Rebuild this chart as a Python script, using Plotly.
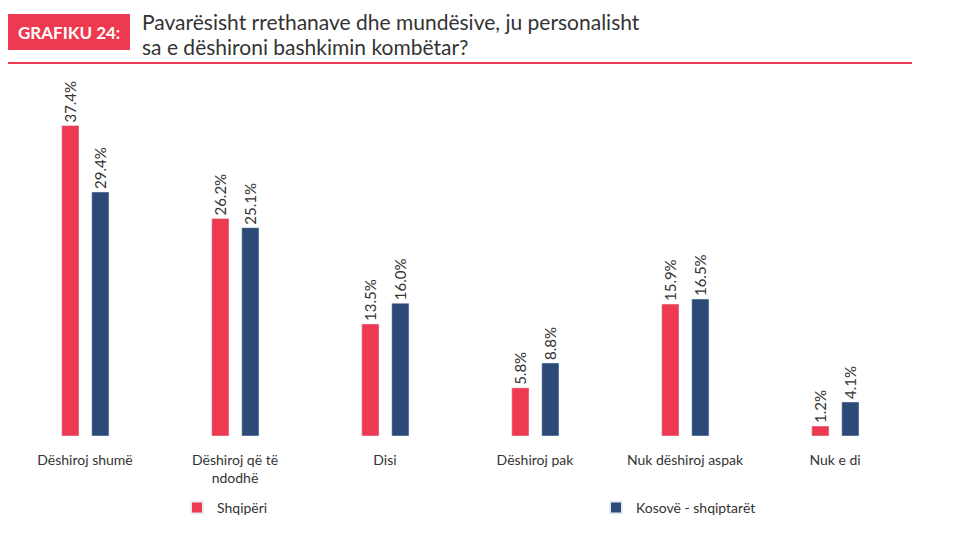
import plotly.graph_objects as go

categories = ["Dëshiroj shumë", "Dëshiroj që të<br>ndodhë", "Disi", "Dëshiroj pak", "Nuk dëshiroj aspak", "Nuk e di"]
shqiperi = [37.4, 26.2, 13.5, 5.8, 15.9, 1.2]
kosove = [29.4, 25.1, 16.0, 8.8, 16.5, 4.1]
series_names = ["Shqipëri", "Kosovë - shqiptarët"]
title_lines = ["Pavarësisht rrethanave dhe mundësive, ju personalisht", "sa e dëshironi bashkimin kombëtar?"]

RED = "#EE3A50"
BLUE = "#2B4A78"
TXT = "#333333"
FONT = "Lato, Open Sans, sans-serif"

# page body has an 8px margin -> compensate
OFF = 8
PLOT_L, PLOT_R, PLOT_T, PLOT_B = 10, 910, 80, 436


def px(xs):
    return (xs - PLOT_L) / (PLOT_R - PLOT_L)


def py(ys):
    return (PLOT_B - ys) / (PLOT_B - PLOT_T)


fig = go.Figure()
for vals, name, col, off in [(shqiperi, series_names[0], RED, -0.155), (kosove, series_names[1], BLUE, 0.045)]:
    fig.add_trace(go.Bar(
        x=categories, y=vals, name=name, marker_color=col,
        width=0.115, offset=off,
        text=[f"{v:.1f}%" for v in vals], textposition="outside", textangle=-90,
        constraintext="none", cliponaxis=False,
        textfont=dict(size=15, color=TXT, family=FONT),
    ))

fig.update_layout(
    width=980, height=539,
    margin=dict(l=PLOT_L - OFF, r=980 - (PLOT_R - OFF), t=PLOT_T - OFF, b=539 - (PLOT_B - OFF),
                autoexpand=False),
    paper_bgcolor="white", plot_bgcolor="white",
    font=dict(family=FONT, color=TXT, size=14),
    barmode="group",
    showlegend=True,
    legend=dict(
        orientation="h", xref="container", yref="container",
        x=(177 - OFF) / 980, y=1 - (492 - OFF) / 539, xanchor="left", yanchor="top",
        entrywidth=374, entrywidthmode="pixels",
        font=dict(size=14, color=TXT, family=FONT),
        itemsizing="constant",
    ),
    xaxis=dict(showline=False, showgrid=False, zeroline=False, ticks="",
               tickfont=dict(size=14, color=TXT, family=FONT), ticklabelstandoff=14),
    yaxis=dict(range=[0, (PLOT_B - PLOT_T) / 8.3], visible=False, showgrid=False, zeroline=False),
    shapes=[
        dict(type="rect", xref="paper", yref="paper", x0=px(8), x1=px(130),
             y0=py(50), y1=py(14), fillcolor=RED, line_width=0, layer="above"),
        dict(type="line", xref="paper", yref="paper", x0=px(8), x1=px(912),
             y0=py(63), y1=py(63), line=dict(color=RED, width=2)),
    ],
    annotations=[
        dict(text="<b>GRAFIKU 24:</b>", xref="paper", yref="paper",
             x=px(69), y=py(33), xanchor="center", yanchor="middle",
             showarrow=False, font=dict(size=17, color="white", family=FONT)),
        dict(text=title_lines[0], xref="paper", yref="paper", x=px(141), y=py(21),
             xanchor="left", yanchor="middle", align="left", showarrow=False, borderpad=0,
             font=dict(size=21, color=TXT, family=FONT)),
        dict(text=title_lines[1], xref="paper", yref="paper", x=px(141), y=py(46),
             xanchor="left", yanchor="middle", align="left", showarrow=False, borderpad=0,
             font=dict(size=21, color=TXT, family=FONT)),
    ],
)

fig.write_html("out.html")
